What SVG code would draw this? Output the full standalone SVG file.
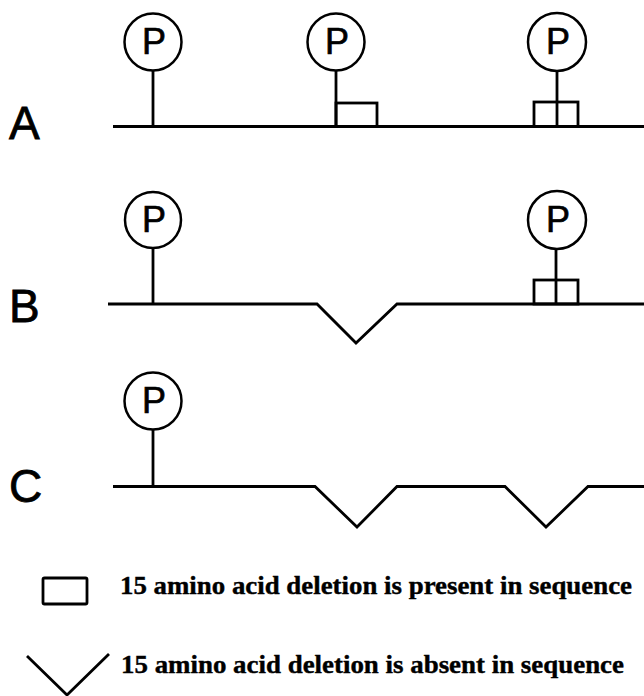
<svg xmlns="http://www.w3.org/2000/svg" width="644" height="696" viewBox="0 0 644 696">
<style>
.ln{fill:none;stroke:#000;stroke-width:2.8;stroke-linejoin:miter;stroke-linecap:butt}
.pc{fill:#fff;stroke:#000;stroke-width:2.5}
.pt{font-family:"Liberation Sans",Arial,sans-serif;font-size:36px;text-anchor:middle;fill:#000;stroke:#000;stroke-width:0.7}
.lab{font-family:"Liberation Sans",Arial,sans-serif;font-size:46px;fill:#000;stroke:#000;stroke-width:0.8}
.leg{font-family:"Liberation Serif","Times New Roman",serif;font-size:26px;font-weight:bold;fill:#000;stroke:#000;stroke-width:0.4}
</style>
<rect width="644" height="696" fill="#fff"/>
<g id="labels">
<text class="lab" x="9" y="139">A</text>
<text class="lab" x="9" y="322">B</text>
<text class="lab" x="9" y="502">C</text>
</g>
<g id="connectors">
<path class="ln" d="M113,126.5 H644"/>
<path class="ln" d="M108,304 H317 L356,343 L397,304 H644"/>
<path class="ln" d="M113,486.5 H315 L357,527 L397,486.5 H505 L546,527 L588,486.5 H644"/>
<path class="ln" d="M153,70 V126.5"/>
<path class="ln" d="M336,70 V126.5"/>
<path class="ln" d="M557,71 V126.5"/>
<path class="ln" d="M153,248 V304"/>
<path class="ln" d="M556,248 V304"/>
<path class="ln" d="M153,430 V486.5"/>
</g>
<g id="A-P1"><circle class="pc" cx="153" cy="42" r="28.5"/><text class="pt" x="154" y="54">P</text></g>
<g id="A-P2"><circle class="pc" cx="336" cy="42" r="28.5"/><text class="pt" x="337" y="54">P</text></g>
<g id="A-P3"><circle class="pc" cx="557" cy="42" r="29"/><text class="pt" x="558" y="54">P</text></g>
<g id="A-box2"><rect class="ln" x="336" y="103" width="41" height="23.5"/></g>
<g id="A-box3"><rect class="ln" x="534" y="102" width="44" height="24.5"/></g>
<g id="B-P1"><circle class="pc" cx="153" cy="220" r="28"/><text class="pt" x="154" y="232">P</text></g>
<g id="B-P2"><circle class="pc" cx="557" cy="220" r="29"/><text class="pt" x="558" y="232">P</text></g>
<g id="B-box"><rect class="ln" x="534" y="280" width="44" height="24"/></g>
<g id="C-P1"><circle class="pc" cx="153" cy="401" r="28.5"/><text class="pt" x="154" y="413">P</text></g>
<g id="legend">
<rect class="ln" x="43" y="578" width="44" height="26" rx="1.5"/>
<text class="leg" x="120" y="594" textLength="512" lengthAdjust="spacingAndGlyphs">15 amino acid deletion is present in sequence</text>
<path class="ln" d="M27,656 L67,695 L109,654"/>
<text class="leg" x="121" y="673" textLength="503" lengthAdjust="spacingAndGlyphs">15 amino acid deletion is absent in sequence</text>
</g>
</svg>
